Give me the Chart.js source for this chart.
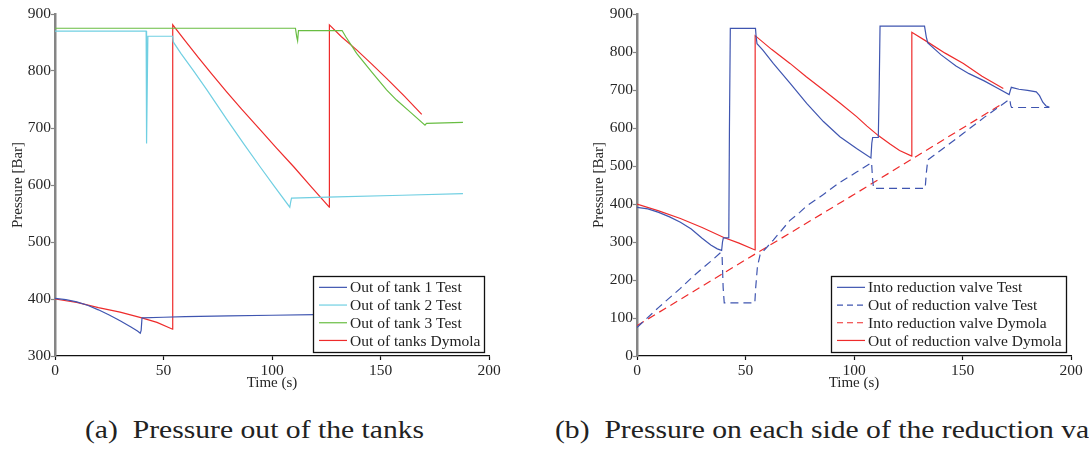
<!DOCTYPE html>
<html>
<head>
<meta charset="utf-8">
<script src="https://cdn.jsdelivr.net/npm/chart.js@4.4.1/dist/chart.umd.min.js"></script>
<style>
  html, body { margin:0; padding:0; background:#fff; width:1089px; height:453px; overflow:hidden; position:relative; }
  canvas { position:absolute; top:0; }
  #c1 { left:0; }
  #c2 { left:560px; }
  .cap { position:absolute; top:415px; font-family:"Liberation Serif", serif; font-size:26px; line-height:30px; color:#222; white-space:nowrap; transform:scaleX(1.14); transform-origin:0 0; }
</style>
</head>
<body>
<canvas id="c1" width="540" height="400"></canvas>
<canvas id="c2" width="529" height="400"></canvas>
<div class="cap" style="left:85px;">(a)&nbsp; Pressure out of the tanks</div>
<div class="cap" style="left:555px;">(b)&nbsp; Pressure on each side of the reduction valve</div>
<script>
// ---------------- DATA ----------------
const xTicks = [0, 50, 100, 150, 200];
const leftYTicks = [300, 400, 500, 600, 700, 800, 900];
const rightYTicks = [0, 100, 200, 300, 400, 500, 600, 700, 800, 900];

// (a) Pressure out of the tanks
const tank1Time = [0, 5, 10, 15, 20, 25, 30, 35, 38, 39.3, 39.7, 40.1, 50, 60, 80, 100, 120, 150, 188];
const tank1Pres = [401, 399, 395, 389, 381, 372, 362, 351, 344, 340, 345, 367, 368, 369, 370.5, 371.5, 372.5, 373.5, 375];

const tank2Time = [0, 42.0, 42.2, 42.8, 54.2, 54.5, 58, 63.7, 70, 79, 87, 94.5, 101, 108.2, 108.6, 109, 130, 160, 188];
const tank2Pres = [870, 870, 673, 861, 861, 851, 831, 801, 767, 716, 672, 632, 598, 561, 570, 577, 579, 582, 585];

const tank3Time = [0, 110.8, 111.4, 111.8, 112.2, 132.3, 134, 139, 146, 152.8, 157.4, 164, 170.5, 171.2, 188];
const tank3Pres = [875, 875, 860, 853, 871, 871, 860, 831, 798, 767, 749, 727, 705, 708, 710];

const tanksDymolaTime = [0, 10, 20, 30, 40, 47, 54.2, 54.25, 60, 66, 72, 79, 86, 94.5, 102, 110, 118, 126.4, 126.45, 132, 139, 146, 152.8, 161, 169];
const tanksDymolaPres = [400, 394, 385, 377, 367, 359, 347, 881, 853, 824, 796, 764, 733, 697, 665, 632, 597, 561, 881, 860, 837, 812, 787, 756, 724];

// (b) Pressure on each side of the reduction valve
const intoTestTime = [0, 5, 10, 15, 20, 25, 30, 34, 37, 39, 39.4, 39.8, 42.3, 42.6, 43, 54.6, 54.9, 55.3, 58, 62.8, 70.5, 78.2, 85.9, 93.5, 101.2, 107.8, 108.2, 108.6, 111.2, 111.6, 112, 132.5, 133.3, 134, 140, 147, 153, 160, 166, 171.5, 172, 172.5, 176, 180, 184, 185.5, 187, 188.5, 190];
const intoTestPres = [391, 387, 378, 366, 352, 334, 310, 292, 282, 278, 300, 311, 311, 600, 862, 862, 840, 822, 805, 770, 718, 665, 617, 577, 546, 521, 560, 575, 575, 700, 868, 868, 840, 824, 793, 763, 743, 724, 705, 688, 698, 707, 702, 699, 695, 685, 668, 658, 655];

const outTestTime = [0, 10, 20, 25, 30, 35, 38.5, 39.2, 39.7, 40.2, 54.3, 54.7, 55.5, 56.7, 62.8, 70.5, 75, 78.2, 85.9, 93.5, 101.2, 108.1, 108.5, 109, 132.8, 133.3, 134, 142, 150.4, 160, 171.8, 172.2, 172.6, 190];
const outTestPres = [75, 128, 178, 205, 230, 254, 272, 265, 180, 140, 140, 180, 235, 266, 305, 357, 378, 395, 425, 457, 484, 509, 470, 441, 441, 480, 516, 550, 586, 628, 676, 660, 654, 654];

const intoDymolaTime = [0, 50, 100, 169];
const intoDymolaPres = [80, 253, 425, 666];

const outDymolaTime = [0, 10, 20, 30, 40, 47, 54.4, 54.45, 62, 70.5, 78, 85.9, 93.5, 101.2, 106, 111.2, 116.6, 121, 126.6, 126.65, 134, 142, 150.4, 159, 168.8];
const outDymolaPres = [400, 382, 362, 338, 312, 297, 279, 843, 807, 770, 735, 700, 666, 630, 605, 580, 558, 541, 526, 852, 826, 797, 770, 736, 704];

// ---------------- STYLES ----------------
const C_BLUE = '#3f55b0';
const C_CYAN = '#70cfe2';
const C_GREEN = '#68bd42';
const C_RED = '#ee2b2b';
const FONT = '"Liberation Serif", "Times New Roman", serif';

function pts(ts, ps) { return ts.map((t, i) => ({ x: t, y: ps[i] })); }
function ds(label, ts, ps, color, dash) {
  return { label, data: pts(ts, ps), borderColor: color, backgroundColor: color,
           borderWidth: 1.2, borderDash: dash || [], pointRadius: 0, tension: 0, fill: false };
}

const boxLegend = {
  id: 'boxLegend',
  afterDatasetsDraw(chart, args, o) {
    const ctx = chart.ctx, ca = chart.chartArea;
    const items = chart.data.datasets;
    ctx.save();
    ctx.font = o.fontSize + 'px ' + FONT;
    const textW = Math.max(...items.map(d => ctx.measureText(d.label).width));
    const w = Math.round(o.padL + o.sample + o.gap + textW + o.padR);
    const h = Math.round(o.rowH * items.length + o.padV * 2);
    const x = Math.round(ca.right - o.insetR - w), y = Math.round(ca.bottom - o.insetB - h);
    ctx.fillStyle = '#fff';
    ctx.fillRect(x, y, w, h);
    ctx.strokeStyle = '#111';
    ctx.lineWidth = 1.3;
    ctx.strokeRect(x + 0.5, y + 0.5, w, h);
    items.forEach((d, i) => {
      const cy = y + o.padV + o.rowH * (i + 0.5);
      ctx.strokeStyle = d.borderColor;
      ctx.lineWidth = 1.2;
      ctx.setLineDash(d.borderDash && d.borderDash.length ? [6, 4] : []);
      ctx.beginPath();
      ctx.moveTo(x + o.padL, cy);
      ctx.lineTo(x + o.padL + o.sample, cy);
      ctx.stroke();
      ctx.setLineDash([]);
      ctx.fillStyle = '#222';
      ctx.textBaseline = 'middle';
      ctx.fillText(d.label, x + o.padL + o.sample + o.gap, cy + 1);
    });
    ctx.restore();
  }
};

function makeOptions(yMin, yMax, yTickVals, yWidth, padRight, yTitlePad) {
  return {
    responsive: false,
    animation: false,
    devicePixelRatio: 1,
    layout: { padding: { top: 14, left: 0, right: padRight, bottom: 0 } },
    plugins: {
      legend: { display: false },
      tooltip: { enabled: false },
      boxLegend: { fontSize: 15.5, rowH: 17.7, padV: 2.5, padL: 6, sample: 28, gap: 3, padR: 4, insetR: 5, insetB: 4 }
    },
    scales: {
      x: {
        type: 'linear', min: 0, max: 200,
        afterFit(s) { s.height = 44; },
        afterBuildTicks(s) { s.ticks = xTicks.map(v => ({ value: v })); },
        border: { display: true, color: '#111', width: 1.3 },
        grid: { display: true, drawOnChartArea: false, drawTicks: true, tickLength: 4, tickColor: '#111', tickWidth: 1.2 },
        ticks: { color: '#262626', font: { family: FONT, size: 15.5 }, padding: 2, maxRotation: 0 },
        title: { display: true, text: 'Time (s)', color: '#262626', font: { family: FONT, size: 15 }, padding: { top: 0, bottom: 8 } }
      },
      y: {
        type: 'linear', min: yMin, max: yMax,
        afterFit(s) { s.width = yWidth; },
        afterBuildTicks(s) { s.ticks = yTickVals.map(v => ({ value: v })); },
        border: { display: true, color: '#858585', width: 2.5 },
        grid: { display: true, drawOnChartArea: false, drawTicks: true, tickLength: 4, tickColor: '#858585', tickWidth: 1.2 },
        ticks: { color: '#262626', font: { family: FONT, size: 15.5 }, padding: 0 },
        title: { display: true, text: 'Pressure [Bar]', color: '#262626', font: { family: FONT, size: 15 }, padding: { top: yTitlePad, bottom: 0 } }
      }
    }
  };
}

new Chart(document.getElementById('c1'), {
  type: 'line',
  data: { datasets: [
    ds('Out of tank 1 Test', tank1Time, tank1Pres, C_BLUE),
    ds('Out of tank 2 Test', tank2Time, tank2Pres, C_CYAN),
    ds('Out of tank 3 Test', tank3Time, tank3Pres, C_GREEN),
    ds('Out of tanks Dymola', tanksDymolaTime, tanksDymolaPres, C_RED)
  ] },
  options: makeOptions(300, 900, leftYTicks, 55, 51, 9),
  plugins: [boxLegend]
});

new Chart(document.getElementById('c2'), {
  type: 'line',
  data: { datasets: [
    ds('Into reduction valve Test', intoTestTime, intoTestPres, C_BLUE),
    ds('Out of reduction valve Test', outTestTime, outTestPres, C_BLUE, [8, 5]),
    ds('Into reduction valve Dymola', intoDymolaTime, intoDymolaPres, C_RED, [8, 5]),
    ds('Out of reduction valve Dymola', outDymolaTime, outDymolaPres, C_RED)
  ] },
  options: makeOptions(0, 900, rightYTicks, 77, 18, 30),
  plugins: [boxLegend]
});
</script>
</body>
</html>
